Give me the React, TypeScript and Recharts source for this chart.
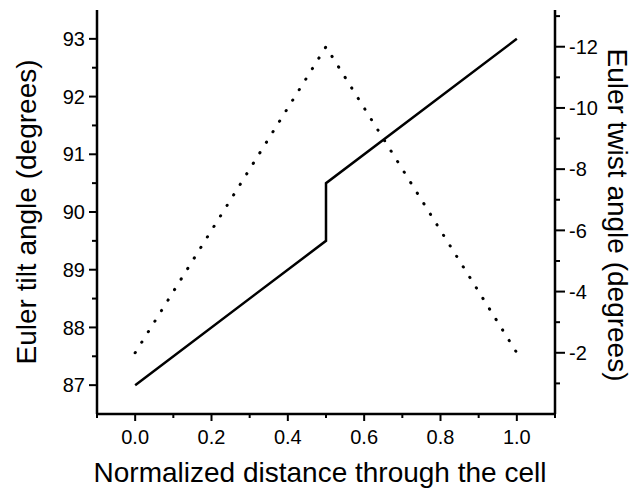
import { LineChart, Line, XAxis, YAxis } from "recharts";

// solid line: Euler tilt angle (left axis)
const tiltX = [0, 0.5, 0.5, 1.0];
const tiltDeg = [87, 89.5, 90.5, 93];

// dotted line: Euler twist angle (right axis)
const twistX = [0, 0.5, 1.0];
const twistDeg = [-2, -12, -2];

const xMajor = [0, 0.2, 0.4, 0.6, 0.8, 1.0];
const xMinor = [-0.1, 0.1, 0.3, 0.5, 0.7, 0.9, 1.1];
const leftMajor = [87, 88, 89, 90, 91, 92, 93];
const leftMinor = [87.5, 88.5, 89.5, 90.5, 91.5, 92.5];
const rightMajor = [-2, -4, -6, -8, -10, -12];
const rightMinor = [-1, -3, -5, -7, -9, -11, -13];

const tiltData = tiltX.map((x, i) => ({ x, y: tiltDeg[i] }));
const twistData = twistX.map((x, i) => ({ x, y: twistDeg[i] }));

const FONT = '"Liberation Sans", Arial, Helvetica, sans-serif';
const isIn = (list: number[], v: number) => list.some((m) => Math.abs(m - v) < 1e-6);

const BottomTick = ({ x, y, payload }: any) => {
  const major = isIn(xMajor, payload.value);
  return (
    <g>
      <line x1={x} x2={x} y1={y} y2={y + (major ? 7 : 4)} stroke="#000" strokeWidth={2} />
      {major && (
        <text x={x} y={y + 30} textAnchor="middle" fontSize={20} fontFamily={FONT} fill="#000">
          {payload.value.toFixed(1)}
        </text>
      )}
    </g>
  );
};

const LeftTick = ({ x, y, payload }: any) => {
  const major = isIn(leftMajor, payload.value);
  return (
    <g>
      <line x1={x - (major ? 8 : 5)} x2={x} y1={y} y2={y} stroke="#000" strokeWidth={2} />
      {major && (
        <text x={x - 12} y={y} dy="0.36em" textAnchor="end" fontSize={20} fontFamily={FONT} fill="#000">
          {payload.value}
        </text>
      )}
    </g>
  );
};

const RightTick = ({ x, y, payload }: any) => {
  const major = isIn(rightMajor, payload.value);
  return (
    <g>
      <line x1={x} x2={x + (major ? 10 : 5)} y1={y} y2={y} stroke="#000" strokeWidth={2} />
      {major && (
        <text x={x + 14} y={y} dy="0.36em" textAnchor="start" fontSize={20} fontFamily={FONT} fill="#000">
          {payload.value}
        </text>
      )}
    </g>
  );
};

const LeftTitle = ({ viewBox }: any) => {
  const vb = viewBox ?? { x: 0, y: 10, width: 97, height: 404 };
  const cx = vb.x + 36;
  const cy = vb.y + vb.height / 2;
  return (
    <text x={cx} y={cy} transform={`rotate(-90 ${cx} ${cy})`} textAnchor="middle" fontSize={28} fontFamily={FONT} fill="#000">
      Euler tilt angle (degrees)
    </text>
  );
};

const RightTitle = ({ viewBox }: any) => {
  const vb = viewBox ?? { x: 555, y: 10, width: 85, height: 404 };
  const cx = vb.x + 53;
  const cy = vb.y + vb.height / 2 + 3;
  return (
    <text x={cx} y={cy} transform={`rotate(90 ${cx} ${cy})`} textAnchor="middle" fontSize={28} fontFamily={FONT} fill="#000">
      Euler twist angle (degrees)
    </text>
  );
};

const BottomTitle = ({ viewBox }: any) => {
  const vb = viewBox ?? { x: 97, y: 414, width: 458, height: 81 };
  return (
    <text x={vb.x + vb.width / 2 - 6} y={vb.y + 68} textAnchor="middle" fontSize={28} fontFamily={FONT} fill="#000">
      Normalized distance through the cell
    </text>
  );
};

const xTicks = [...xMinor, ...xMajor].sort((a, b) => a - b);
const leftTicks = [...leftMinor, ...leftMajor].sort((a, b) => a - b);
const rightTicks = [...rightMinor, ...rightMajor].sort((a, b) => a - b);

export default function App() {
  return (
    <div style={{ position: "absolute", left: 0, top: 0, width: 640, height: 495, background: "#fff" }}>
      <LineChart width={640} height={495} margin={{ top: 10, right: 0, bottom: 0, left: 0 }}>
        <XAxis
          dataKey="x"
          type="number"
          domain={[-0.1, 1.1]}
          ticks={xTicks}
          interval={0}
          height={81}
          tickSize={0}
          tickMargin={0}
          tickLine={false}
          tick={<BottomTick />}
          axisLine={{ stroke: "#000", strokeWidth: 2.5 }}
          label={<BottomTitle />}
          allowDataOverflow
        />
        <XAxis
          xAxisId="top"
          orientation="top"
          type="number"
          domain={[-0.1, 1.1]}
          height={0}
          tick={false}
          tickLine={false}
          axisLine={{ stroke: "#000", strokeWidth: 2 }}
        />
        <YAxis
          yAxisId="left"
          type="number"
          domain={[86.5, 93.5]}
          ticks={leftTicks}
          interval={0}
          width={97}
          tickSize={0}
          tickMargin={0}
          tickLine={false}
          tick={<LeftTick />}
          axisLine={{ stroke: "#000", strokeWidth: 2.5 }}
          label={<LeftTitle />}
          allowDataOverflow
        />
        <YAxis
          yAxisId="right"
          orientation="right"
          type="number"
          domain={[-13.2, 0]}
          reversed
          ticks={rightTicks}
          interval={0}
          width={85}
          tickSize={0}
          tickMargin={0}
          tickLine={false}
          tick={<RightTick />}
          axisLine={{ stroke: "#000", strokeWidth: 2.5 }}
          label={<RightTitle />}
          allowDataOverflow
        />
        <Line
          yAxisId="left"
          data={tiltData}
          dataKey="y"
          type="linear"
          stroke="#000"
          strokeWidth={2.5}
          dot={false}
          isAnimationActive={false}
        />
        <Line
          yAxisId="right"
          data={twistData}
          dataKey="y"
          type="linear"
          stroke="#000"
          strokeWidth={3}
          strokeLinecap="round"
          strokeDasharray="0.3 12.1"
          dot={false}
          isAnimationActive={false}
        />
      </LineChart>
    </div>
  );
}
